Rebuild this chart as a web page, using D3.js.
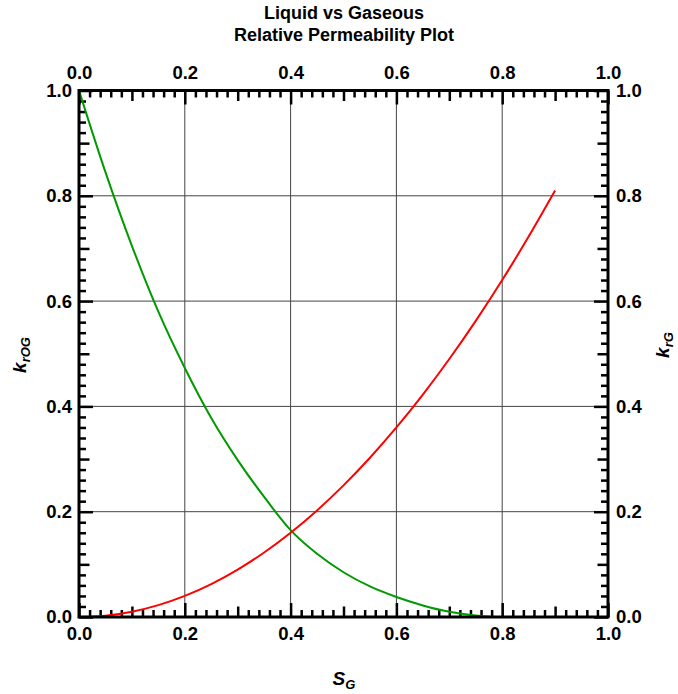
<!DOCTYPE html>
<html>
<head>
<meta charset="utf-8">
<script src="https://cdn.jsdelivr.net/npm/d3@7"></script>
<style>
  body { margin: 0; background: #fff; }
  text { font-family: "Liberation Sans", Arial, sans-serif; font-weight: bold; }
</style>
</head>
<body>
<script>
/* data */
let sg = [0, 0.05, 0.1, 0.15, 0.2, 0.25, 0.3, 0.35, 0.4, 0.45, 0.5, 0.55, 0.6, 0.65, 0.7, 0.75, 0.8, 0.85, 0.9];
let krog = [1.0, 0.845, 0.705, 0.58, 0.473, 0.378, 0.298, 0.228, 0.165, 0.12, 0.085, 0.058, 0.038, 0.022, 0.01, 0.003, 0, 0, 0];
let krg = [0, 0.0025, 0.01, 0.0225, 0.04, 0.0625, 0.09, 0.1225, 0.16, 0.2025, 0.25, 0.3025, 0.36, 0.4225, 0.49, 0.5625, 0.64, 0.7225, 0.81];
let majorTicks = [0, 0.2, 0.4, 0.6, 0.8, 1.0];
let gridTicks = [0.2, 0.4, 0.6, 0.8];
let titleLines = ["Liquid vs Gaseous", "Relative Permeability Plot"];

let width = 678;
let height = 694;
let plotLeft = 79, plotRight = 608, plotTop = 90.5, plotBottom = 617;

let svg = d3.select("body").append("svg")
  .attr("width", width)
  .attr("height", height);

let x = d3.scaleLinear().domain([0, 1]).range([plotLeft, plotRight]);
let y = d3.scaleLinear().domain([0, 1]).range([plotBottom, plotTop]);

/* title */
svg.append("g").selectAll("text")
  .data(titleLines)
  .enter().append("text")
  .attr("x", 344)
  .attr("y", (d, i) => 19 + i * 21.5)
  .attr("text-anchor", "middle")
  .style("font-size", "18px")
  .text(d => d);

/* grid */
svg.append("g").selectAll("line")
  .data(gridTicks)
  .enter().append("line")
  .attr("x1", d => x(d)).attr("x2", d => x(d))
  .attr("y1", plotTop).attr("y2", plotBottom)
  .attr("stroke", "#444").attr("stroke-width", 1);
svg.append("g").selectAll("line")
  .data(gridTicks)
  .enter().append("line")
  .attr("y1", d => y(d)).attr("y2", d => y(d))
  .attr("x1", plotLeft).attr("x2", plotRight)
  .attr("stroke", "#444").attr("stroke-width", 1);

/* tick length by value: major, half, minor */
let allTicks = d3.range(0, 51).map(i => i / 50);
function tickLen(d) {
  let k = Math.round(d * 50);
  if (k % 10 === 0) return 14;
  if (k % 5 === 0) return 10.5;
  return 7;
}

function drawAxis(axisFn, scale, transform, sign, horiz, pad) {
  let g = svg.append("g")
    .attr("transform", transform)
    .call(axisFn(scale).tickValues(allTicks).tickSize(0).tickFormat(""));
  g.select(".domain").remove();
  g.selectAll(".tick line")
    .attr(horiz ? "y2" : "x2", d => sign * tickLen(d))
    .attr("stroke", "#000")
    .attr("stroke-width", 2.5);
  let lg = svg.append("g")
    .attr("transform", transform)
    .call(axisFn(scale).tickValues(majorTicks).tickSize(0).tickPadding(pad).tickFormat(d3.format(".1f")));
  lg.select(".domain").remove();
  lg.selectAll("text")
    .style("font-size", "18.5px")
    .attr("fill", "#000");
}

drawAxis(d3.axisBottom, x, "translate(0," + plotBottom + ")", -1, true, 10);
drawAxis(d3.axisTop, x, "translate(0," + plotTop + ")", 1, true, 12);
drawAxis(d3.axisLeft, y, "translate(" + plotLeft + ",0)", 1, false, 7);
drawAxis(d3.axisRight, y, "translate(" + plotRight + ",0)", -1, false, 8);

/* curves */
let lineG = d3.line()
  .x((d, i) => x(sg[i]))
  .y(d => y(d))
  .curve(d3.curveMonotoneX);

svg.append("path")
  .datum(krog)
  .attr("d", lineG)
  .attr("fill", "none")
  .attr("stroke", "#009a00")
  .attr("stroke-width", 2);

svg.append("path")
  .datum(krg)
  .attr("d", lineG)
  .attr("fill", "none")
  .attr("stroke", "#ff0000")
  .attr("stroke-width", 2);

/* frame */
svg.append("rect")
  .attr("x", plotLeft).attr("y", plotTop)
  .attr("width", plotRight - plotLeft).attr("height", plotBottom - plotTop)
  .attr("fill", "none")
  .attr("stroke", "#000")
  .attr("stroke-width", 3);

/* axis labels */
let xl = svg.append("text")
  .attr("x", 344).attr("y", 685)
  .attr("text-anchor", "middle")
  .style("font-size", "19px")
  .attr("font-style", "italic");
xl.append("tspan").text("S");
xl.append("tspan").style("font-size", "13px").attr("dy", 4).text("G");

let yl = svg.append("text")
  .attr("transform", "translate(26,355) rotate(-90)")
  .attr("text-anchor", "middle")
  .style("font-size", "19px")
  .attr("font-style", "italic");
yl.append("tspan").text("k");
yl.append("tspan").style("font-size", "13px").attr("dy", 4).text("rOG");

let yr = svg.append("text")
  .attr("transform", "translate(669,345) rotate(-90)")
  .attr("text-anchor", "middle")
  .style("font-size", "19px")
  .attr("font-style", "italic");
yr.append("tspan").text("k");
yr.append("tspan").style("font-size", "13px").attr("dy", 4).text("rG");
</script>
</body>
</html>
